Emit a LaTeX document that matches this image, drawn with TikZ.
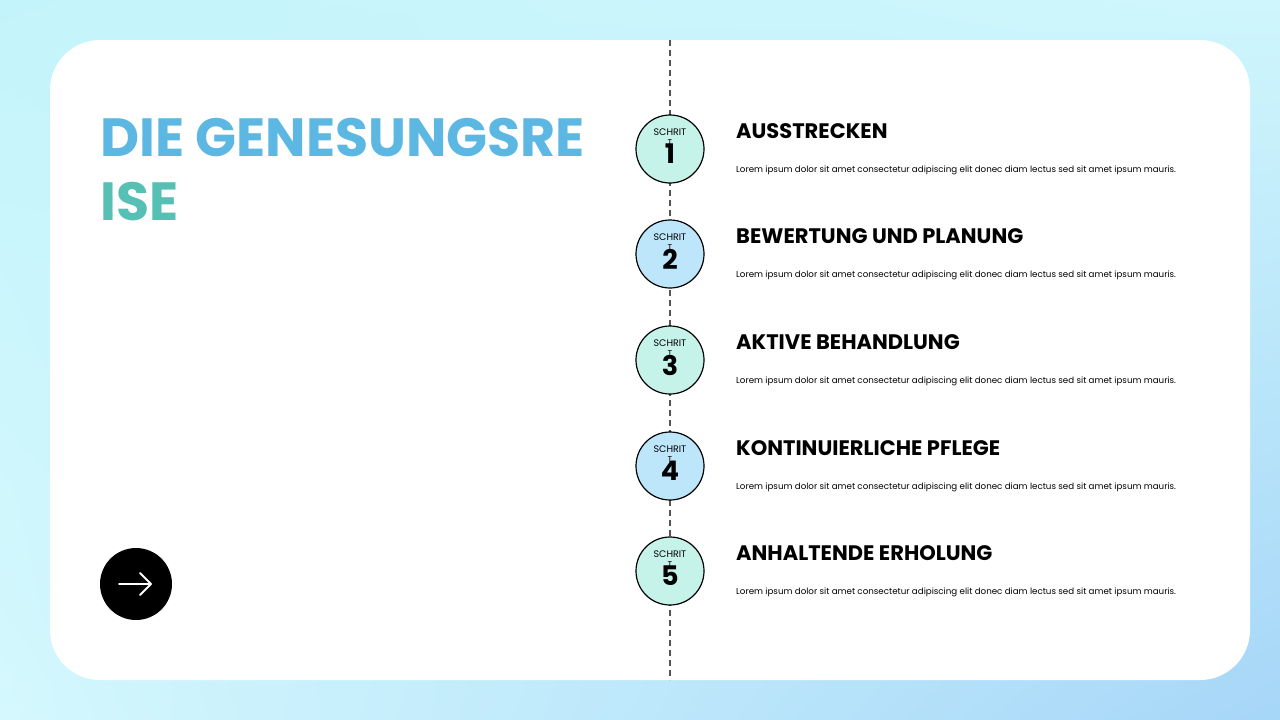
\documentclass[tikz,border=0pt]{standalone}
\usepackage{fontspec}
\setmainfont{Poppins}
\usetikzlibrary{shadings}
\definecolor{bgA}{HTML}{C4F4FB}
\definecolor{bgB}{HTML}{CFF6FC}
\definecolor{bgC}{HTML}{D4F8FD}
\definecolor{bgD}{HTML}{A6D6F8}
\definecolor{mint}{HTML}{C6F3E9}
\definecolor{sky}{HTML}{BEE6FB}
\definecolor{titleA}{HTML}{5CB8E2}
\definecolor{titleB}{HTML}{57C0B4}
\definecolor{dashc}{HTML}{555555}
\tikzset{
  stepcircle/.style={circle, draw=black, line width=1.2pt, minimum size=68pt, inner sep=0pt},
  steplabel/.style={font=\fontsize{9.5}{10}\selectfont, inner sep=0pt},
  stept/.style={font=\fontsize{8.5}{9}\selectfont, inner sep=0pt},
  stepnum/.style={font=\bfseries\fontsize{27}{27}\selectfont, inner sep=0pt},
  headtext/.style={anchor=west, font=\bfseries\fontsize{21}{22}\selectfont, inner sep=0pt},
  bodytext/.style={anchor=west, font=\fontsize{8.7}{9}\selectfont, inner sep=0pt},
  titletext/.style={anchor=north west, font=\bfseries\fontsize{53.8}{54}\selectfont, inner sep=0pt},
  timeline/.style={draw=dashc, line width=1.5pt, dash pattern=on 6pt off 4pt}
}
\begin{document}
\begin{tikzpicture}[x=1pt,y=-1pt]
\useasboundingbox (0,0) rectangle (1280,720);
\shade[upper left=bgA, upper right=bgB, lower left=bgC, lower right=bgD] (0,0) rectangle (1280,720);
\fill[white, rounded corners=50pt] (50,40) rectangle (1250,680);
% timeline
\coordinate (ltop) at (670,40);
\coordinate (lbot) at (670,680);
\draw[timeline] (ltop) -- (lbot);
% title
\node[titletext, text=titleA] (title1) at (100,118) {DIE GENESUNGSRE};
\node[titletext, text=titleB] (title2) at (100,182) {ISE};
% arrow button
\node[circle, fill=black, minimum size=72pt, inner sep=0pt] (btn) at (136,584) {};
\coordinate (arrA) at ([xshift=-17pt]btn.center);
\coordinate (arrB) at ([xshift=15pt]btn.center);
\draw[white, line width=1.8pt, line cap=round, line join=round] (arrA) -- (arrB);
\draw[white, line width=1.8pt, line cap=round, line join=round] ([xshift=-11pt,yshift=11pt]arrB) -- (arrB) -- ([xshift=-11pt,yshift=-11pt]arrB);
% steps
\foreach \i/\y/\col/\head in {1/149/mint/AUSSTRECKEN, 2/254/sky/BEWERTUNG UND PLANUNG, 3/360/mint/AKTIVE BEHANDLUNG, 4/466/sky/KONTINUIERLICHE PFLEGE, 5/571/mint/ANHALTENDE ERHOLUNG}{
  \node[stepcircle, fill=\col] (s\i) at (670,\y) {};
  \node[steplabel] (sl\i) at ([yshift=17pt]s\i.center) {SCHRIT};
  \node[stepnum] (sn\i) at ([yshift=-5pt]s\i.center) {\i};
  \node[stept] (st\i) at ([yshift=6pt]s\i.center) {T};
  \node[headtext] (h\i) at (736,\y-18) {\head};
  \node[bodytext] (b\i) at (736,\y+21.5) {Lorem ipsum dolor sit amet consectetur adipiscing elit donec diam lectus sed sit amet ipsum mauris.};
}
\end{tikzpicture}
\end{document}
